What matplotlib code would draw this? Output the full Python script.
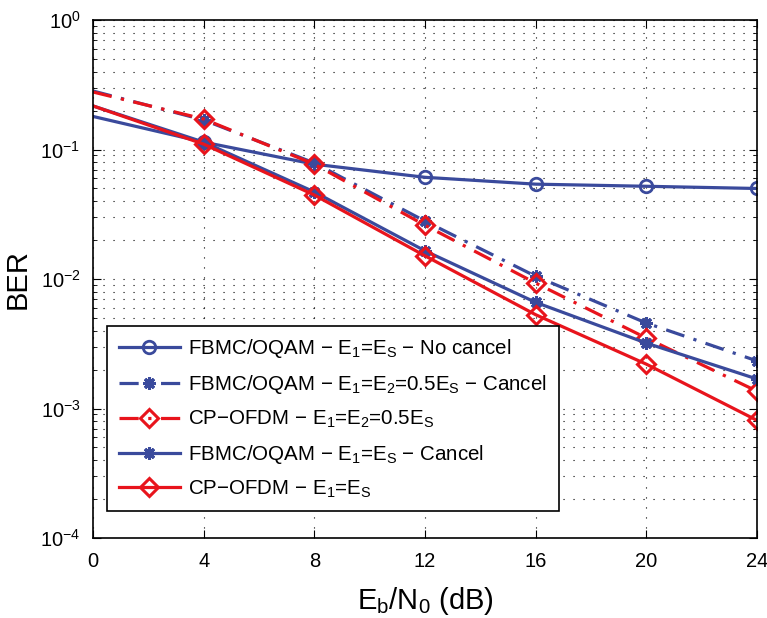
import matplotlib
matplotlib.use("Agg")
import matplotlib.pyplot as plt
from matplotlib.ticker import LogLocator, NullFormatter, MultipleLocator

plt.rcParams['font.family'] = ['Liberation Sans', 'DejaVu Sans']
plt.rcParams['mathtext.fontset'] = 'custom'
plt.rcParams['mathtext.rm'] = 'Liberation Sans'
plt.rcParams['mathtext.it'] = 'Liberation Sans'

ebn0 = [0, 4, 8, 12, 16, 20, 24]

fbmc_nocancel = [0.18, 0.114, 0.077, 0.061, 0.054, 0.052, 0.050]
fbmc_half_cancel = [0.283, 0.169, 0.0787, 0.028, 0.0105, 0.00457, 0.00233]
ofdm_half = [0.278, 0.172, 0.077, 0.026, 0.0093, 0.0035, 0.00136]
fbmc_cancel = [0.217, 0.114, 0.047, 0.0165, 0.0066, 0.0032, 0.00169]
ofdm_full = [0.217, 0.110, 0.0445, 0.0151, 0.0053, 0.0022, 0.00081]

labels = [
    r'FBMC/OQAM $-$ E$_1$=E$_\mathrm{S}$ $-$ No cancel',
    r'FBMC/OQAM $-$ E$_1$=E$_2$=0.5E$_\mathrm{S}$ $-$ Cancel',
    r'CP$-$OFDM $-$ E$_1$=E$_2$=0.5E$_\mathrm{S}$',
    r'FBMC/OQAM $-$ E$_1$=E$_\mathrm{S}$ $-$ Cancel',
    r'CP$-$OFDM $-$ E$_1$=E$_\mathrm{S}$',
]

blue = '#3a4a9c'
red = '#e8141c'
dashdot = (0, (6, 3, 1, 3))

fig = plt.figure(figsize=(7.67, 6.18), dpi=100)
ax = fig.add_axes([93 / 767, 1 - 538 / 618, 664 / 767, 518 / 618])

mk = slice(1, None)
ax.plot(ebn0, fbmc_nocancel, color=blue, lw=2.3, marker='o', ms=9, mfc='none', mew=2,
        markevery=mk, label=labels[0])
ax.plot(ebn0, fbmc_half_cancel, color=blue, lw=2.3, ls=dashdot, marker=(8, 2, 0), ms=9, mew=2.2,
        markevery=mk, label=labels[1])
ax.plot(ebn0, ofdm_half, color=red, lw=2.3, ls=dashdot, marker='D', ms=9, mfc='none', mew=2.2,
        markevery=mk, label=labels[2])
ax.plot(ebn0, fbmc_cancel, color=blue, lw=2.3, marker=(8, 2, 0), ms=9, mew=2.2,
        markevery=mk, label=labels[3])
ax.plot(ebn0, ofdm_full, color=red, lw=2.3, marker='D', ms=9, mfc='none', mew=2.2,
        markevery=mk, label=labels[4])

ax.set_yscale('log')
ax.set_xlim(0, 24)
ax.set_ylim(1e-4, 1)
ax.xaxis.set_major_locator(MultipleLocator(4))
ax.yaxis.set_major_locator(LogLocator(base=10, numticks=10))
ax.yaxis.set_minor_locator(LogLocator(base=10, subs=range(2, 10), numticks=10))
ax.yaxis.set_minor_formatter(NullFormatter())

ax.grid(True, which='major', color='black', ls=(0, (1, 8)), lw=0.8)
ax.grid(True, which='minor', axis='y', color='black', ls=(0, (1, 8)), lw=0.8)

ax.tick_params(which='both', direction='in', top=True, right=True, labelsize=14.5)
ax.tick_params(which='major', length=6)
ax.tick_params(which='minor', length=3)
ax.tick_params(axis='x', which='major', pad=10)
ax.tick_params(axis='y', which='major', pad=9)
for s in ax.spines.values():
    s.set_linewidth(1.2)

ax.set_xlabel(r'E$_\mathrm{b}$/N$_0$ (dB)', fontsize=21, labelpad=10)
ax.set_ylabel('BER', fontsize=21, labelpad=6)

leg = ax.legend(loc='lower left', bbox_to_anchor=(0.006, 0.032), fontsize=14.8, frameon=True,
                fancybox=False, edgecolor='black', framealpha=1, handlelength=3.0,
                handletextpad=0.4, labelspacing=0.62, borderpad=0.55)
leg.get_frame().set_linewidth(1.2)

fig.savefig('out.png', dpi=100)
